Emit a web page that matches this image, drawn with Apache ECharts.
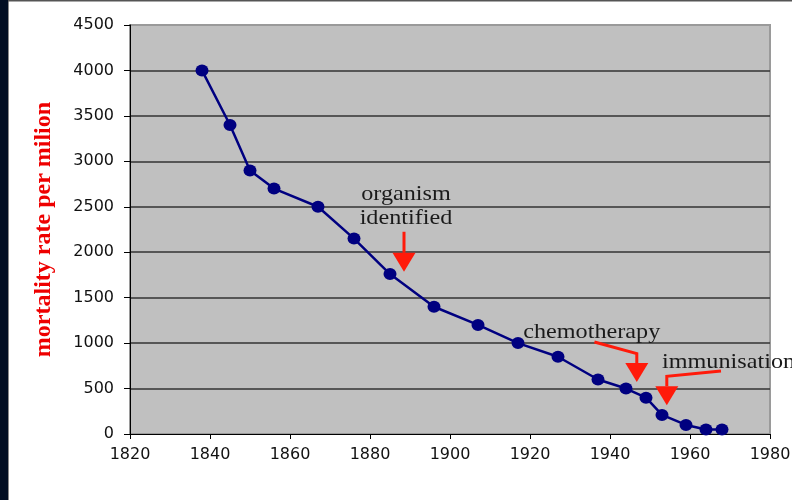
<!DOCTYPE html>
<html>
<head>
<meta charset="utf-8">
<script src="https://cdn.jsdelivr.net/npm/echarts@6/dist/echarts.min.js"></script>
<style>
  html, body { margin: 0; padding: 0; background: #fff; }
  #chart { width: 792px; height: 500px; }
</style>
</head>
<body>
<div id="chart"></div>
<script>
// Tuberculosis mortality in England & Wales, deaths per million per year
const years = [1838, 1845, 1850, 1856, 1867, 1876, 1885, 1896, 1907, 1917, 1927, 1937, 1944, 1949, 1953, 1959, 1964, 1968];
const rates = [4000, 3400, 2900, 2700, 2500, 2150, 1760, 1400, 1200, 1000, 850, 600, 500, 400, 210, 100, 50, 50];

// axis ranges and labels
const xRange = [1820, 1980, 20];
const yRange = [0, 4500, 500];
const yTitle = 'mortality rate per milion';

// annotation texts, anchored in data coordinates [year, rate]
const notes = [
  { text: 'organism\nidentified', at: [1889, 2508], align: 'center' },
  { text: 'chemotherapy', at: [1918.3, 1123], align: 'left' },
  { text: 'immunisation', at: [1953, 793], align: 'left' }
];
// arrow paths in data coordinates; the last point is the arrow tip
const arrows = [
  [[1888.5, 2225], [1888.5, 1785]],
  [[1936.1, 1013], [1946.7, 885], [1946.7, 573]],
  [[1967.75, 694], [1954.2, 635], [1954.2, 316]]
];

const chart = echarts.init(document.getElementById('chart'), null, { renderer: 'canvas' });

const tickFont = { fontFamily: 'DejaVu Sans', fontSize: 16, color: '#111' };
const plain = (v) => String(v);

chart.setOption({
  animation: false,
  backgroundColor: '#ffffff',
  grid: {
    left: 130, top: 25, width: 640, height: 409,
    outerBoundsMode: 'none', containLabel: false,
    show: true, backgroundColor: '#c0c0c0', borderColor: '#9a9a9a', borderWidth: 2
  },
  xAxis: {
    type: 'value', min: xRange[0], max: xRange[1], interval: xRange[2],
    axisLine: { show: true, onZero: false, lineStyle: { color: '#000', width: 1 } },
    axisTick: { show: true, inside: false, length: 5, lineStyle: { color: '#000' } },
    axisLabel: Object.assign({ margin: 13, formatter: plain }, tickFont),
    splitLine: { show: false }
  },
  yAxis: {
    type: 'value', min: yRange[0], max: yRange[1], interval: yRange[2],
    name: yTitle, nameLocation: 'middle', nameRotate: 90, nameGap: 74,
    nameTextStyle: { fontFamily: 'Liberation Serif', fontWeight: 'bold', fontSize: 24, color: '#ee0000' },
    axisLine: { show: true, lineStyle: { color: '#000', width: 1 } },
    axisTick: { show: true, inside: false, length: 6, lineStyle: { color: '#000' } },
    axisLabel: Object.assign({ margin: 16, formatter: plain }, tickFont),
    splitLine: { show: true, showMinLine: false, showMaxLine: false, lineStyle: { color: '#333', width: 1.5 } }
  },
  series: [{
    type: 'line',
    data: years.map((y, i) => [y, rates[i]]),
    symbol: 'circle',
    symbolSize: [13, 12],
    lineStyle: { color: '#000080', width: 2.5 },
    itemStyle: { color: '#000080' },
    z: 3
  }]
});

const px = (pt) => chart.convertToPixel({ gridIndex: 0 }, pt);

const graphics = [
  // frame decoration: dark strip on the left and a thin rule along the top
  { type: 'rect', shape: { x: 0, y: 0, width: 8, height: 500 }, style: { fill: '#020e22' }, z: 10 },
  { type: 'rect', shape: { x: 8, y: 0, width: 1, height: 500 }, style: { fill: '#8a8a8a' }, z: 10 },
  { type: 'rect', shape: { x: 8, y: 0, width: 784, height: 1.5 }, style: { fill: '#555' }, z: 10 }
];

// annotation labels: serif type, slightly widened
notes.forEach((n) => {
  const [x, y] = px(n.at);
  graphics.push({
    type: 'text', z: 20,
    x: x, y: y, scaleX: 1.1, scaleY: 1,
    style: {
      text: n.text, x: 0, y: 0,
      font: '22px "Liberation Serif"', fill: '#1a1a1a',
      textAlign: n.align, textVerticalAlign: 'middle',
      align: n.align, verticalAlign: 'middle', lineHeight: 24
    }
  });
});

const headLen = 19, headHalf = 11.5;
arrows.forEach((path) => {
  const pts = path.map(px);
  const tip = pts[pts.length - 1];
  const base = [tip[0], tip[1] - headLen];
  const shaft = pts.slice(0, -1).concat([base]);
  graphics.push({
    type: 'polyline', z: 20,
    shape: { points: shaft },
    style: { stroke: '#ff1a0a', lineWidth: 3, fill: null }
  });
  graphics.push({
    type: 'polygon', z: 20,
    shape: { points: [[base[0] - headHalf, base[1]], [base[0] + headHalf, base[1]], tip] },
    style: { fill: '#ff1a0a' }
  });
});

chart.setOption({ graphic: graphics });
</script>
</body>
</html>
